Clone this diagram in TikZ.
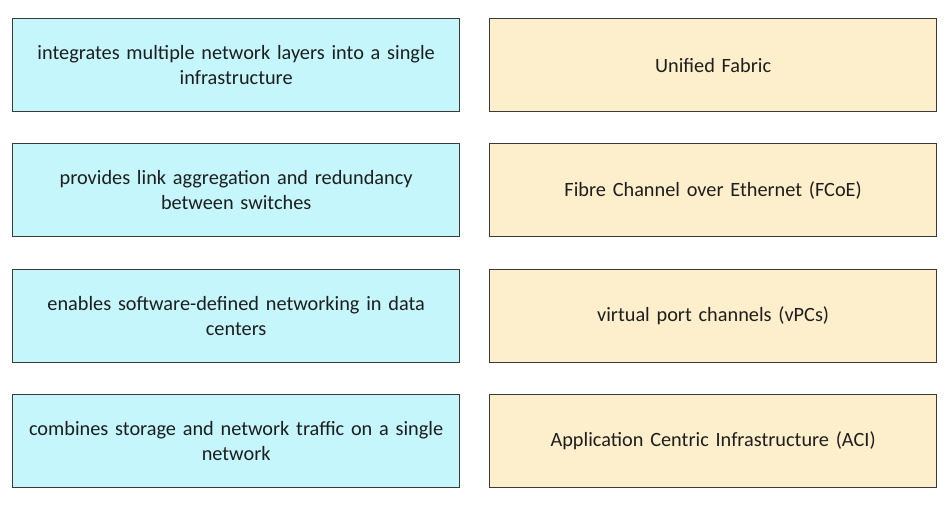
\documentclass[tikz,border=0pt]{standalone}
\usepackage{fontspec}
\setmainfont{Carlito}
\definecolor{leftfill}{HTML}{C4F6FC}
\definecolor{rightfill}{HTML}{FDEFCB}
\definecolor{boxline}{HTML}{3A3A3A}
\definecolor{txt}{HTML}{1E1E1E}
\begin{document}
\begin{tikzpicture}[x=1pt,y=-1pt,
  cardbox/.style={draw=boxline, line width=1.3pt, minimum width=447pt, minimum height=93pt,
    inner sep=0pt, align=center, text width=440pt, text=txt,
    font=\fontsize{20.3}{25}\selectfont, anchor=north west},
  leftcard/.style={cardbox, fill=leftfill},
  rightcard/.style={cardbox, fill=rightfill}]
\useasboundingbox (0,0) rectangle (951,509);
\fill[white] (0,0) rectangle (951,509);
\node[leftcard] (l1) at (12,18) {integrates multiple network layers into a single\\infrastructure};
\node[leftcard] (l2) at (12,143) {provides link aggregation and redundancy\\between switches};
\node[leftcard] (l3) at (12,269) {enables software-defined networking in data\\centers};
\node[leftcard] (l4) at (12,394) {combines storage and network traffic on a single\\network};
\node[rightcard] (r1) at (489,18) {Unified Fabric};
\node[rightcard] (r2) at (489,143) {Fibre Channel over Ethernet (FCoE)};
\node[rightcard] (r3) at (489,269) {virtual port channels (vPCs)};
\node[rightcard] (r4) at (489,394) {Application Centric Infrastructure (ACI)};
\end{tikzpicture}
\end{document}
